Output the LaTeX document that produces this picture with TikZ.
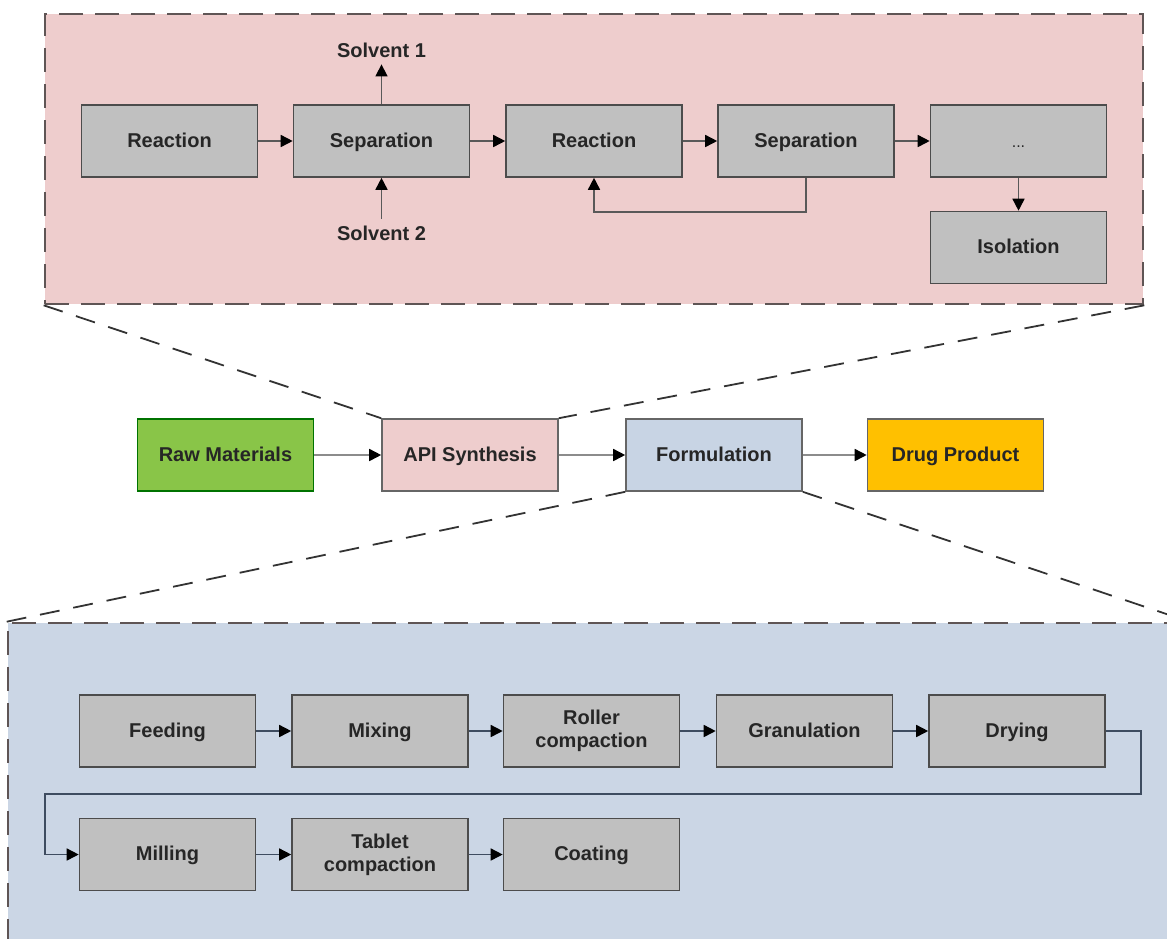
\documentclass[tikz,border=0pt]{standalone}
\usepackage{fontspec}
\setmainfont{Liberation Sans}
\usepackage{tikz}
\usetikzlibrary{arrows.meta,positioning}

\definecolor{pinkbg}{RGB}{238,205,205}
\definecolor{bluebg}{RGB}{203,214,229}
\definecolor{boxgray}{RGB}{192,192,192}
\definecolor{rawgreen}{RGB}{137,197,72}
\definecolor{druggold}{RGB}{255,192,0}
\definecolor{formblue}{RGB}{200,212,228}
\definecolor{framegray}{RGB}{95,85,85}
\definecolor{flowblue}{RGB}{62,76,96}

\begin{document}
\begin{tikzpicture}[x=0.5pt,y=-0.5pt,
		proc/.style={draw=black!70,fill=boxgray,line width=0.8pt,minimum width=88pt,minimum height=36pt,align=center,text=black!85,text height=1.5ex,text depth=.3ex,font=\fontsize{10}{11.5}\selectfont\bfseries},
		main/.style={proc,draw=black!60},
		lbl/.style={text=black!85,font=\fontsize{10}{11.5}\selectfont\bfseries},
		zoombox/.style={draw=framegray,line width=1.3pt,dash pattern=on 12pt off 6pt},
		zoomline/.style={draw=black!80,line width=0.9pt,dash pattern=on 10pt off 7pt},
		flow/.style={draw=black!65,line width=0.8pt,-{Triangle[length=6pt,width=6pt,color=black]}}]
			\useasboundingbox (0,0) rectangle (1167,938);

			% zoomed frames
			\node (synbox) [zoombox,fill=pinkbg,minimum width=549pt,minimum height=145pt] at (594,159) {};
			\node (formbox) [zoombox,fill=bluebg,minimum width=590pt,minimum height=166pt] at (598,789) {};

			% main chain
			\node (raw) [main,fill=rawgreen,draw=black!55!green] at (225.5,455) {Raw Materials};
			\node (api) [main,fill=pinkbg] at (470,455) {API Synthesis};
			\node (form) [main,fill=formblue] at (714,455) {Formulation};
			\node (drug) [main,fill=druggold] at (955.5,455) {Drug Product};

			\draw [zoomline] (synbox.south west) to (api.north west);
			\draw [zoomline] (synbox.south east) to (api.north east);
			\draw [zoomline] (form.south west) to (formbox.north west);
			\draw [zoomline] (form.south east) to (formbox.north east);

			\draw [flow,draw=black!45] (raw) to (api);
			\draw [flow,draw=black!45] (api) to (form);
			\draw [flow,draw=black!45] (form) to (drug);

			% API synthesis
			\node (react1) [proc] at (169.5,141) {Reaction};
			\node (sep1) [proc] at (381.5,141) {Separation};
			\node (react2) [proc] at (594,141) {Reaction};
			\node (sep2) [proc] at (806,141) {Separation};
			\node (more) [proc,font=\fontsize{8}{9}\selectfont] at (1018.5,141) {...};
			\node (iso) [proc] at (1018.5,247.5) {Isolation};
			\node (solv1) [lbl] at (381.5,50) {Solvent 1};
			\node (solv2) [lbl] at (381.5,233) {Solvent 2};

			\draw [flow] (react1) to (sep1);
			\draw [flow] (sep1) to (react2);
			\draw [flow] (react2) to (sep2);
			\draw [flow] (sep2) to (more);
			\draw [flow] (more) to (iso);
			\draw [flow] (sep1) to (solv1);
			\draw [flow] (solv2) to (sep1);
			\draw [flow] (sep2.south) -- ++(0,34) -| (react2.south);

			% formulation
			\node (feed) [proc] at (167.5,731) {Feeding};
			\node (mix) [proc] at (380,731) {Mixing};
			\node (roll) [proc,text height=,text depth=] at (591.5,731) {Roller\\compaction};
			\node (gran) [proc] at (804.5,731) {Granulation};
			\node (dry) [proc] at (1017,731) {Drying};
			\node (mill) [proc] at (167.5,854.5) {Milling};
			\node (tab) [proc,text height=,text depth=] at (380,854.5) {Tablet\\compaction};
			\node (coat) [proc] at (591.5,854.5) {Coating};

			\draw [flow,draw=flowblue] (feed) to (mix);
			\draw [flow,draw=flowblue] (mix) to (roll);
			\draw [flow,draw=flowblue] (roll) to (gran);
			\draw [flow,draw=flowblue] (gran) to (dry);
			\draw [flow,draw=flowblue] (dry.east) -- ++(35,0) |- (45,794) |- (mill.west);
			\draw [flow,draw=flowblue] (mill) to (tab);
			\draw [flow,draw=flowblue] (tab) to (coat);
		\end{tikzpicture}
\end{document}
